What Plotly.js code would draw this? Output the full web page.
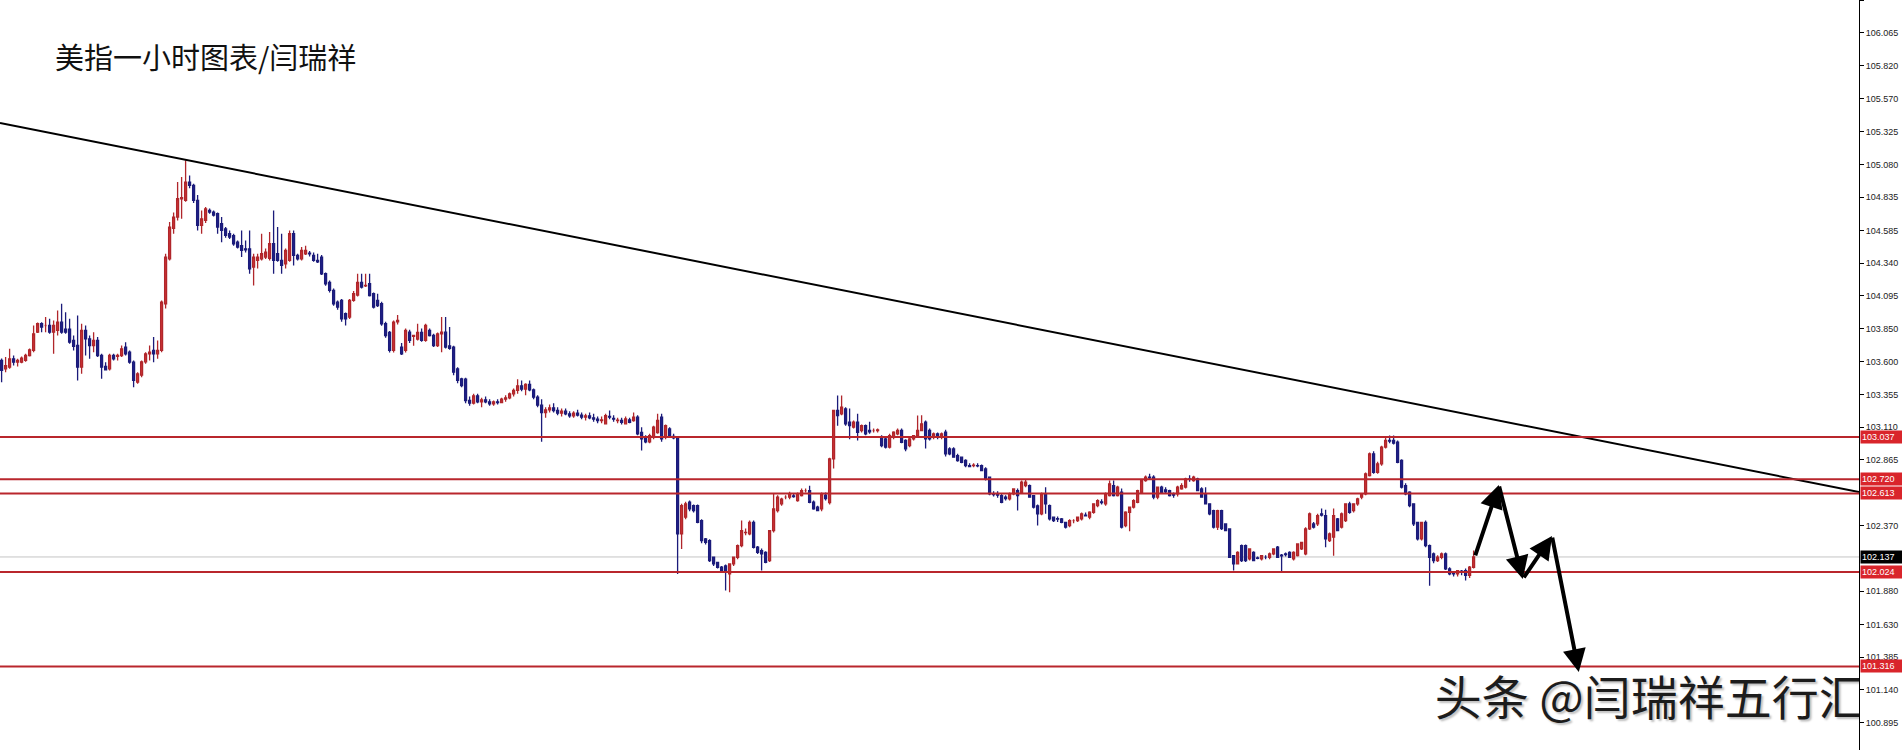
<!DOCTYPE html>
<html>
<head>
<meta charset="utf-8">
<script src="https://cdn.plot.ly/plotly-3.0.1.min.js"></script>
<style>html,body{margin:0;padding:0;background:#fff;}#chart{width:1902px;height:750px;}</style>
</head>
<body>
<div id="chart"></div>
<script>
// ---- Data ----
const titleText = '美指一小时图表/闫瑞祥';
const watermarkText = '头条 @闫瑞祥五行汇';

const openPrices = [
103.610,103.547,103.560,103.622,103.597,103.597,103.610,103.647,103.685,103.822,103.885,103.872,103.872,103.822,103.835,103.897,103.845,103.845,103.760,103.722,103.560,103.835,103.772,103.722,103.760,103.647,103.565,103.547,103.647,103.640,103.647,103.710,103.672,103.597,103.447,103.500,103.600,103.660,103.685,103.660,103.685,
104.035,104.372,104.600,104.685,104.822,104.810,104.947,104.922,104.810,104.622,104.660,104.735,104.722,104.710,104.635,104.597,104.560,104.545,104.497,104.470,104.447,104.447,104.310,104.360,104.372,104.385,104.375,104.485,104.410,104.360,104.335,104.360,104.560,104.397,104.372,104.410,104.415,104.397,104.360,104.385,104.260,104.195,104.135,104.047,104.060,103.960,103.935,104.060,104.100,104.195,104.170,104.185,104.110,104.060,104.035,103.885,103.820,103.685,103.900,
103.710,103.685,103.822,103.790,103.770,103.820,103.760,103.835,103.797,103.722,103.810,103.822,103.720,103.710,103.547,103.472,103.470,
103.310,103.290,103.345,103.300,103.315,103.300,103.285,103.300,103.295,103.320,103.330,103.360,103.385,103.420,103.395,103.430,103.390,103.335,103.275,103.220,103.240,103.255,103.235,103.215,103.230,103.210,103.195,103.215,103.200,103.185,103.195,103.180,103.170,
103.160,103.135,103.190,103.175,103.160,103.160,103.135,103.165,103.160,103.185,103.070,103.035,103.000,103.035,103.070,103.185,103.035,103.097,103.040,103.035,
102.310,102.435,102.547,102.522,102.522,102.410,102.272,102.260,102.135,102.097,102.060,102.070,102.010,102.085,102.135,102.222,102.320,102.310,102.397,102.210,
102.185,102.172,102.110,102.335,102.485,102.535,102.585,102.585,102.595,102.560,102.597,102.635,102.635,102.547,102.510,102.497,102.600,102.545,102.872,103.235,
103.210,103.247,103.147,103.110,103.147,103.085,103.122,103.085,103.085,103.085,103.035,103.022,102.960,103.035,103.060,103.085,103.010,102.972,103.022,103.047,
103.085,103.147,103.085,103.035,103.060,103.035,103.072,102.947,102.947,102.897,102.885,102.860,102.822,102.822,102.822,102.822,102.797,102.735,102.610,102.610,
102.597,102.585,102.572,102.610,102.635,102.622,102.672,102.672,102.597,102.520,102.460,102.610,102.522,102.435,102.425,102.422,102.397,102.372,102.410,102.410,
102.422,102.450,102.435,102.472,102.522,102.550,102.535,102.597,102.672,102.597,102.622,102.372,102.472,102.510,102.547,102.622,102.710,102.735,102.735,102.585,
102.660,102.640,102.635,102.610,102.610,102.647,102.660,102.722,102.710,102.722,102.647,102.610,102.535,102.485,102.360,102.485,102.385,102.347,102.147,102.085,
102.222,102.222,102.122,102.172,102.130,102.122,102.135,102.135,102.160,102.210,102.150,102.160,102.172,102.122,102.147,102.197,102.160,102.347,102.385,102.385,
102.460,102.447,102.260,102.285,102.422,102.360,102.410,102.535,102.485,102.535,102.585,102.610,102.747,102.910,102.772,102.835,102.960,103.010,103.010,102.997,
102.860,102.672,102.622,102.535,102.397,102.272,102.397,102.222,102.160,102.110,102.135,102.160,102.047,
102.015,102.010,102.030,102.035,102.000,102.060
];
const highPrices = [
103.625,103.635,103.697,103.647,103.622,103.640,103.660,103.700,103.872,103.895,103.897,103.935,103.922,103.910,103.985,104.035,103.972,103.922,103.797,103.947,103.885,103.872,103.797,103.822,103.785,103.660,103.597,103.660,103.660,103.660,103.722,103.747,103.685,103.610,103.522,103.610,103.672,103.722,103.785,103.760,104.060,
104.410,104.647,104.720,104.947,104.985,105.110,104.997,104.935,104.850,104.735,104.760,104.750,104.735,104.720,104.685,104.610,104.585,104.560,104.510,104.585,104.510,104.585,104.410,104.410,104.560,104.450,104.572,104.735,104.610,104.560,104.450,104.585,104.585,104.410,104.460,104.470,104.430,104.420,104.410,104.400,104.270,104.210,104.150,104.060,104.070,103.970,104.070,104.130,104.260,104.260,104.260,104.260,104.120,104.110,104.050,103.900,103.830,103.910,103.950,
103.740,103.850,103.840,103.800,103.885,103.850,103.885,103.850,103.810,103.820,103.935,103.935,103.860,103.720,103.560,103.480,103.480,
103.340,103.360,103.360,103.330,103.340,103.320,103.310,103.320,103.330,103.350,103.370,103.400,103.470,103.460,103.440,103.460,103.400,103.350,103.320,103.260,103.280,103.290,103.260,103.250,103.250,103.230,103.230,103.240,103.220,103.210,103.220,103.210,103.190,
103.190,103.210,103.235,103.200,103.180,103.180,103.190,103.180,103.220,103.200,103.110,103.050,103.060,103.120,103.210,103.210,103.130,103.110,103.060,103.040,
102.535,102.550,102.560,102.530,102.530,102.420,102.280,102.270,102.140,102.100,102.070,102.080,102.090,102.140,102.230,102.410,102.350,102.410,102.410,102.220,
102.200,102.180,102.340,102.610,102.600,102.580,102.600,102.625,102.610,102.620,102.650,102.650,102.670,102.560,102.520,102.620,102.620,102.880,103.240,103.347,
103.347,103.260,103.250,103.160,103.210,103.130,103.130,103.150,103.100,103.100,103.050,103.030,103.060,103.080,103.100,103.100,103.020,103.030,103.050,103.197,
103.200,103.160,103.100,103.070,103.070,103.070,103.090,102.960,102.960,102.910,102.890,102.870,102.840,102.840,102.840,102.830,102.810,102.740,102.630,102.630,
102.610,102.600,102.620,102.647,102.650,102.710,102.722,102.680,102.600,102.530,102.620,102.660,102.530,102.440,102.440,102.430,102.400,102.420,102.420,102.440,
102.470,102.470,102.480,102.540,102.570,102.570,102.620,102.710,102.710,102.670,102.650,102.480,102.510,102.570,102.640,102.722,102.747,102.760,102.750,102.660,
102.670,102.660,102.640,102.620,102.670,102.690,102.730,102.750,102.745,102.730,102.660,102.660,102.540,102.490,102.490,102.490,102.390,102.350,102.150,102.180,
102.230,102.230,102.200,102.180,102.140,102.150,102.150,102.170,102.200,102.220,102.160,102.170,102.180,102.180,102.240,102.250,102.360,102.470,102.400,102.460,
102.500,102.490,102.320,102.500,102.430,102.470,102.540,102.550,102.540,102.580,102.610,102.770,102.920,102.930,102.850,102.970,103.030,103.047,103.047,103.010,
102.870,102.690,102.630,102.540,102.400,102.400,102.410,102.230,102.170,102.150,102.170,102.170,102.060,
102.030,102.040,102.040,102.050,102.070,102.186
];
const lowPrices = [
103.447,103.522,103.547,103.572,103.565,103.590,103.600,103.640,103.672,103.815,103.822,103.822,103.810,103.660,103.797,103.810,103.810,103.735,103.685,103.460,103.510,103.647,103.622,103.672,103.635,103.472,103.535,103.535,103.610,103.610,103.635,103.647,103.585,103.410,103.435,103.485,103.585,103.610,103.597,103.622,103.672,
104.000,104.360,104.560,104.660,104.672,104.800,104.900,104.790,104.585,104.560,104.640,104.710,104.690,104.560,104.497,104.530,104.520,104.470,104.450,104.385,104.420,104.260,104.172,104.300,104.360,104.370,104.360,104.260,104.350,104.260,104.300,104.350,104.322,104.360,104.360,104.400,104.390,104.350,104.340,104.250,104.170,104.120,104.020,103.990,103.900,103.872,103.920,104.050,104.090,104.150,104.160,104.090,104.000,104.010,103.870,103.780,103.670,103.670,103.880,
103.650,103.670,103.740,103.720,103.760,103.750,103.750,103.790,103.710,103.710,103.672,103.700,103.690,103.500,103.440,103.410,103.290,
103.270,103.280,103.290,103.260,103.290,103.270,103.270,103.280,103.290,103.300,103.320,103.340,103.360,103.380,103.350,103.380,103.320,103.260,103.000,103.180,103.220,103.220,103.200,103.190,103.200,103.180,103.180,103.190,103.170,103.160,103.170,103.150,103.140,
103.140,103.130,103.170,103.150,103.140,103.130,103.130,103.140,103.150,103.050,102.935,102.990,102.990,103.020,103.060,103.000,103.020,103.030,103.020,102.010,
102.197,102.420,102.480,102.470,102.390,102.240,102.230,102.100,102.070,102.050,102.030,101.885,101.872,102.070,102.120,102.210,102.300,102.300,102.200,102.160,
102.035,102.090,102.100,102.320,102.470,102.520,102.570,102.570,102.580,102.550,102.590,102.620,102.540,102.490,102.480,102.480,102.560,102.530,102.800,103.120,
103.200,103.120,103.020,103.100,103.010,103.070,103.050,103.060,103.070,103.070,102.960,102.950,102.950,103.020,103.050,102.990,102.930,102.960,103.010,103.040,
103.080,102.950,103.010,103.020,103.020,103.020,102.890,102.900,102.880,102.850,102.840,102.810,102.810,102.810,102.810,102.780,102.710,102.600,102.590,102.580,
102.540,102.560,102.560,102.600,102.485,102.610,102.660,102.580,102.500,102.372,102.450,102.460,102.410,102.400,102.400,102.390,102.350,102.360,102.390,102.400,
102.410,102.440,102.420,102.460,102.510,102.530,102.520,102.590,102.590,102.590,102.350,102.360,102.330,102.500,102.540,102.610,102.700,102.720,102.570,102.570,
102.620,102.610,102.590,102.580,102.590,102.640,102.650,102.700,102.700,102.630,102.580,102.530,102.450,102.350,102.340,102.340,102.330,102.130,102.035,102.080,
102.100,102.100,102.110,102.110,102.120,102.110,102.120,102.120,102.150,102.130,102.022,102.140,102.130,102.110,102.140,102.190,102.150,102.340,102.350,102.370,
102.440,102.210,102.250,102.147,102.330,102.350,102.400,102.460,102.470,102.520,102.570,102.600,102.740,102.760,102.760,102.820,102.950,102.990,102.980,102.840,
102.650,102.600,102.510,102.370,102.260,102.260,102.210,101.922,102.090,102.100,102.120,102.040,102.000,
101.990,101.990,102.000,101.960,101.980,102.050
];
const closePrices = [
103.535,103.572,103.622,103.597,103.610,103.627,103.647,103.690,103.810,103.885,103.860,103.872,103.822,103.872,103.897,103.822,103.822,103.747,103.715,103.560,103.835,103.772,103.722,103.760,103.647,103.560,103.540,103.647,103.622,103.647,103.697,103.660,103.597,103.460,103.510,103.600,103.660,103.672,103.660,103.685,104.047,
104.385,104.610,104.685,104.822,104.830,104.947,104.922,104.810,104.622,104.672,104.747,104.722,104.700,104.610,104.585,104.547,104.535,104.485,104.460,104.435,104.440,104.297,104.385,104.385,104.410,104.422,104.485,104.360,104.360,104.322,104.435,104.560,104.397,104.372,104.435,104.435,104.410,104.360,104.350,104.260,104.185,104.135,104.035,104.010,103.922,103.922,104.060,104.110,104.195,104.160,104.172,104.097,104.010,104.022,103.885,103.797,103.685,103.897,103.910,
103.660,103.835,103.760,103.797,103.820,103.760,103.872,103.797,103.722,103.810,103.822,103.710,103.700,103.522,103.460,103.422,103.310,
103.290,103.345,103.300,103.315,103.300,103.285,103.300,103.295,103.320,103.330,103.360,103.385,103.420,103.395,103.430,103.390,103.335,103.275,103.220,103.240,103.255,103.235,103.215,103.230,103.210,103.195,103.215,103.200,103.185,103.195,103.180,103.170,103.160,
103.165,103.197,103.185,103.170,103.162,103.147,103.172,103.147,103.185,103.060,103.022,103.000,103.047,103.110,103.160,103.022,103.122,103.035,103.030,102.310,
102.522,102.535,102.497,102.485,102.397,102.260,102.247,102.110,102.085,102.060,102.035,102.022,102.085,102.135,102.222,102.335,102.322,102.397,102.210,102.172,
102.160,102.097,102.335,102.497,102.585,102.570,102.585,102.610,102.590,102.610,102.635,102.635,102.547,102.497,102.485,102.610,102.575,102.872,103.235,103.197,
103.260,103.135,103.122,103.147,103.072,103.122,103.060,103.075,103.085,103.090,102.972,102.960,103.047,103.072,103.085,102.997,102.947,103.022,103.047,103.085,
103.135,103.022,103.022,103.060,103.035,103.060,102.910,102.910,102.885,102.860,102.847,102.822,102.815,102.825,102.820,102.785,102.722,102.610,102.605,102.600,
102.547,102.575,102.610,102.647,102.597,102.697,102.697,102.585,102.510,102.460,102.610,102.535,102.422,102.410,102.420,102.397,102.360,102.410,102.410,102.435,
102.460,102.445,102.472,102.535,102.560,102.545,102.610,102.685,102.597,102.660,102.360,102.472,102.510,102.560,102.635,102.710,102.735,102.730,102.585,102.660,
102.622,102.625,102.597,102.600,102.660,102.672,102.722,102.718,102.735,102.635,102.585,102.535,102.460,102.360,102.485,102.350,102.335,102.135,102.085,102.172,
102.110,102.110,102.197,102.110,102.127,102.147,102.135,102.160,102.197,102.135,102.145,102.155,102.135,102.172,102.235,102.247,102.347,102.460,102.360,102.447,
102.450,102.272,102.310,102.447,102.335,102.460,102.535,102.472,102.535,102.572,102.610,102.760,102.910,102.772,102.835,102.960,103.010,103.005,102.990,102.847,
102.660,102.610,102.522,102.385,102.272,102.397,102.222,102.135,102.110,102.135,102.160,102.047,102.010,
102.010,102.035,102.025,102.000,102.060,102.137
];

// Horizontal support / resistance levels (red) and current price (grey)
const resistanceLevels = [103.037, 102.720, 102.613, 102.024, 101.316];
const currentPrice = 102.137;

// Right-axis tick labels
const tickValues = [106.310,106.065,105.820,105.570,105.325,105.080,104.835,104.585,104.340,104.095,103.850,103.600,103.355,103.110,102.865,102.370,101.880,101.630,101.385,101.140,100.895];
const tickLabels = tickValues.map(v => v.toFixed(3));

// Down trend line: [candle index, price]
const trendLine = [[-0.4, 105.390], [464.35, 102.624]];

// Forecast zig-zag arrows: [candle index, price]
const forecastPath = [[368.3, 102.137], [374.3, 102.676], [380.3, 101.972], [387.6, 102.294], [394.3, 101.274]];

// Watermark anchor: [candle index, price]
const watermarkPos = [358.3, 101.042];

// ---- Build chart ----
const idx = openPrices.map((_, i) => i);

const candles = {
  type: 'candlestick',
  x: idx, open: openPrices, high: highPrices, low: lowPrices, close: closePrices,
  increasing: {line: {color: '#b0262b', width: 1.3}, fillcolor: '#cf3535'},
  decreasing: {line: {color: '#1b1b7a', width: 1.3}, fillcolor: '#20208a'},
  whiskerwidth: 0,
  hoverinfo: 'skip'
};

const trend = {
  type: 'scatter', mode: 'lines',
  x: trendLine.map(p => p[0]), y: trendLine.map(p => p[1]),
  line: {color: '#000', width: 2},
  hoverinfo: 'skip', cliponaxis: true
};

const watermark = {
  type: 'scatter', mode: 'text',
  x: [watermarkPos[0]], y: [watermarkPos[1]],
  text: [watermarkText], textposition: 'middle right',
  textfont: {family: 'Noto Sans CJK SC', size: 47, color: '#1c1c1c', shadow: '2px 2px 2px rgba(0,0,0,0.25)'},
  cliponaxis: true, hoverinfo: 'skip'
};

const shapes = [];
shapes.push({type: 'line', xref: 'paper', x0: 0, x1: 1, yref: 'y', y0: currentPrice, y1: currentPrice,
  line: {color: '#c4c4c4', width: 1}, layer: 'below'});
resistanceLevels.forEach(v => shapes.push({type: 'line', xref: 'paper', x0: 0, x1: 1, yref: 'y', y0: v, y1: v,
  line: {color: '#b9262c', width: 2}, layer: 'above'}));

const annotations = [];
resistanceLevels.forEach(v => annotations.push({
  xref: 'paper', x: 1, xanchor: 'left', xshift: 1, yref: 'y', y: v, yanchor: 'middle',
  text: v.toFixed(3), showarrow: false, bgcolor: '#d9252b', borderpad: 1, width: 40, height: 10, align: 'left',
  font: {family: 'Liberation Sans', size: 9, color: '#ffffff'}
}));
annotations.push({
  xref: 'paper', x: 1, xanchor: 'left', xshift: 1, yref: 'y', y: currentPrice, yanchor: 'middle',
  text: currentPrice.toFixed(3), showarrow: false, bgcolor: '#000000', borderpad: 1, width: 40, height: 10, align: 'left',
  font: {family: 'Liberation Sans', size: 9, color: '#ffffff'}
});
for (let i = 0; i + 1 < forecastPath.length; i++) {
  annotations.push({
    xref: 'x', yref: 'y', axref: 'x', ayref: 'y',
    x: forecastPath[i + 1][0], y: forecastPath[i + 1][1],
    ax: forecastPath[i][0], ay: forecastPath[i][1],
    text: '', showarrow: true, arrowhead: 2, arrowsize: 1.15, arrowwidth: 4, arrowcolor: '#000',
    standoff: 0, startstandoff: 0
  });
}

const layout = {
  width: 1902, height: 750,
  margin: {l: 0, r: 43, t: 0, b: 0, pad: 0},
  paper_bgcolor: '#ffffff', plot_bgcolor: '#ffffff',
  showlegend: false,
  title: {text: titleText, xref: 'container', yref: 'container', x: 55 / 1902, xanchor: 'left',
    y: 1 - 59 / 750, yanchor: 'middle',
    font: {family: 'Noto Sans CJK SC', size: 29, color: '#111'}},
  xaxis: {range: [-0.4, 464.35], visible: false, rangeslider: {visible: false}, fixedrange: true, showgrid: false, zeroline: false},
  yaxis: {side: 'right', range: [100.690, 106.312], tickmode: 'array', tickvals: tickValues, ticktext: tickLabels,
    ticks: 'outside', ticklen: 4, tickcolor: '#000', tickwidth: 1,
    showline: true, linecolor: '#000', linewidth: 1, showgrid: false, zeroline: false, fixedrange: true,
    tickfont: {family: 'Liberation Sans', size: 9, color: '#222'}},
  shapes: shapes,
  annotations: annotations,
  hovermode: false
};

Plotly.newPlot('chart', [candles, trend, watermark], layout, {displayModeBar: false, staticPlot: true});
</script>
</body>
</html>
